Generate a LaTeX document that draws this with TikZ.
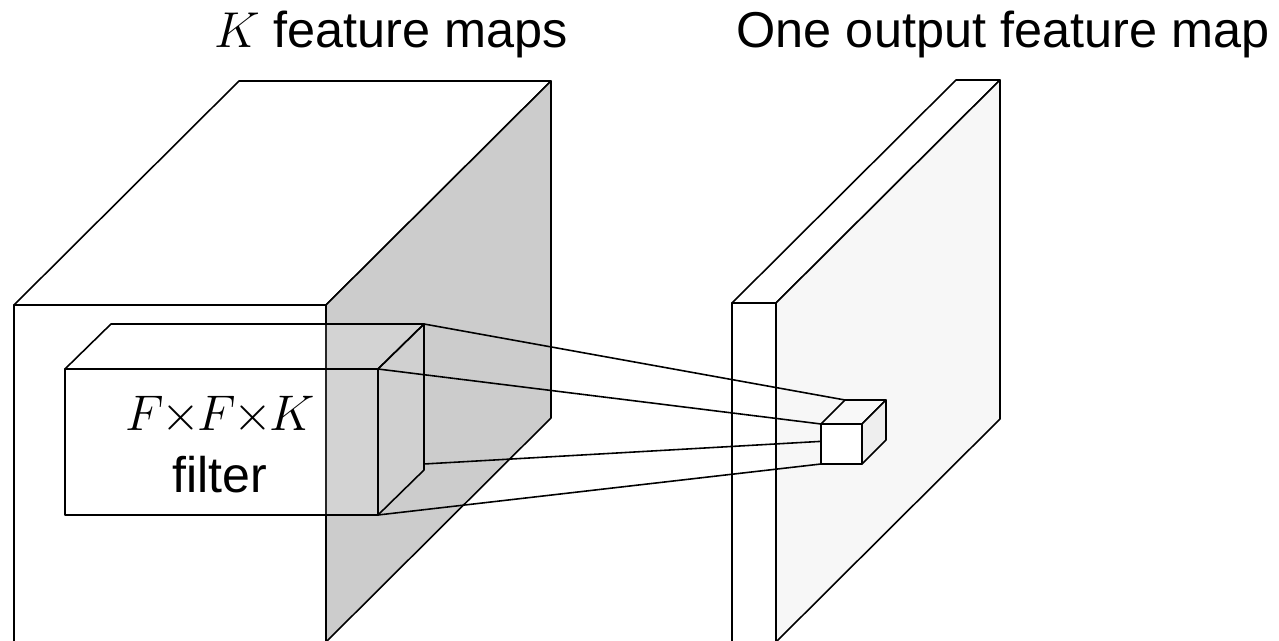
\RequirePackage{fix-cm}
\documentclass[tikz,border=0pt]{standalone}
\usepackage{amsmath}
\usepackage{xcolor}
\usepackage{fontspec}
\setmainfont{Liberation Sans}
\usepackage{tikz}

\definecolor{inside}{HTML}{CCCCCC}
\definecolor{outside}{HTML}{F7F7F7}
\definecolor{cubeside}{HTML}{EEEEEE}
\definecolor{cubetop}{HTML}{F8F8F8}

\begin{document}
\begin{tikzpicture}[
  x=0.02cm, y=-0.02cm,
  face/.style={draw=black, line width=0.9pt, line join=round},
  glass/.style={face, fill=white, fill opacity=0.15},
  wire/.style={line width=0.9pt, black},
  title/.style={font=\fontsize{28.7}{34}\selectfont, anchor=base, inner sep=0pt},
  lbl/.style={font=\fontsize{28.5}{35}\selectfont, align=center, anchor=north, inner sep=0pt}
]
\useasboundingbox (0,0) rectangle (1279,641);
\clip (0,0) rectangle (1279,641);

%% Input volume: K feature maps
\draw[face, fill=white] (14,305) rectangle (326,642);
\draw[face, fill=white] (14,305) -- (239,81) -- (551,81) -- (326,305) -- cycle;
\draw[face, fill=inside] (326,305) -- (551,81) -- (551,418) -- (326,642) -- cycle;

%% F x F x K filter (see-through)
\coordinate (fltFTL) at (65,369);
\coordinate (fltFTR) at (378,369);
\coordinate (fltFBR) at (378,515);
\coordinate (fltBTL) at (111,324);
\coordinate (fltBTR) at (424,324);
\coordinate (fltBBR) at (424,470);
\coordinate (fltOut) at (424,464);
\draw[glass] (fltFTL) rectangle (fltFBR);
\draw[glass] (fltFTL) -- (fltBTL) -- (fltBTR) -- (fltFTR) -- cycle;
\draw[glass, fill opacity=0.08] (fltFTR) -- (fltBTR) -- (fltBBR) -- (fltFBR) -- cycle;
\node[lbl] (fltlbl) at (220,396)
  {$F\mkern-1mu{\times}\mkern-1mu F\mkern-1mu{\times}\mkern-1mu K$\\filter};

%% Output feature map
\draw[face, fill=white] (732,303) rectangle (776,642);
\draw[face, fill=white] (732,303) -- (956,80) -- (1000,80) -- (776,303) -- cycle;
\draw[face, fill=outside] (776,303) -- (1000,80) -- (1000,419) -- (776,642) -- cycle;

%% Output cell
\coordinate (cubeFTL) at (821,424);
\coordinate (cubeFTR) at (862,424);
\coordinate (cubeFBR) at (862,464);
\coordinate (cubeFBL) at (821,464);
\coordinate (cubeBTL) at (845,400);
\coordinate (cubeBTR) at (886,400);
\coordinate (cubeBBR) at (886,440);
\coordinate (cubeBBL) at (845,440);

%% Projection lines
\draw[wire] (fltBTR) -- (cubeBTL);
\draw[wire] (fltFTR) -- (cubeFTL);
\draw[wire] (fltOut) -- (cubeBBL);
\draw[wire] (fltFBR) -- (cubeFBL);

\draw[face, fill=cubetop] (cubeFTL) -- (cubeBTL) -- (cubeBTR) -- (cubeFTR) -- cycle;
\draw[face, fill=cubeside] (cubeFTR) -- (cubeBTR) -- (cubeBBR) -- (cubeFBR) -- cycle;
\draw[face, fill=white] (cubeFTL) rectangle (cubeFBR);

%% Titles
\node[title] (ttlin) at (391,48) {$K$ feature maps};
\node[title] (ttlout) at (1003,48) {One output feature map};

\end{tikzpicture}
\end{document}
